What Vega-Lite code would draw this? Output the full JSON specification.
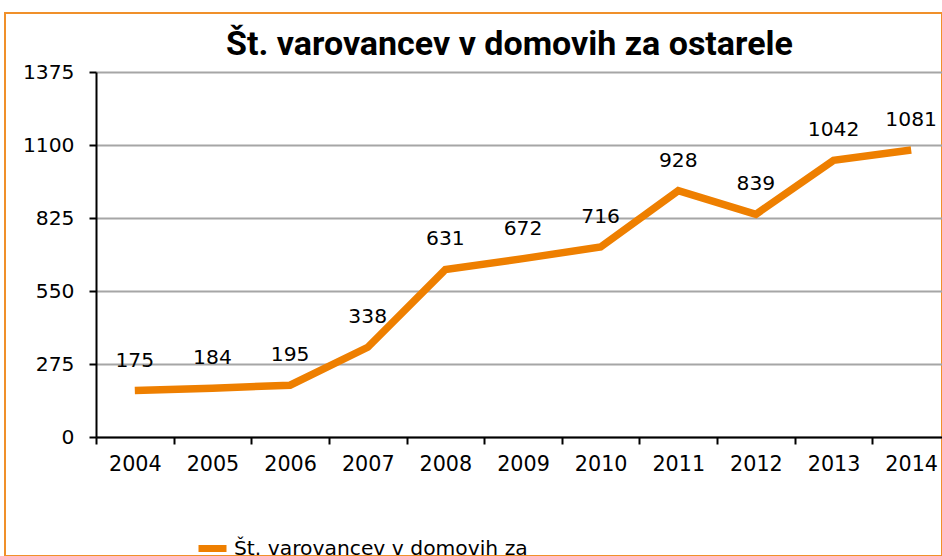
{
  "$schema": "https://vega.github.io/schema/vega-lite/v6.json",
  "width": 937,
  "height": 543,
  "autosize": {"type": "none"},
  "padding": {"left": 5, "top": 13, "right": 0, "bottom": 0},
  "background": "white",
  "config": {
    "view": {"stroke": "#F0902A", "strokeWidth": 2},
    "font": "DejaVu Sans"
  },
  "title": {
    "text": "Št. varovancev v domovih za ostarele",
    "font": "Roboto",
    "fontWeight": "bold",
    "fontSize": 34,
    "color": "#000000",
    "anchor": "middle",
    "frame": "group",
    "offset": 0,
    "baseline": "alphabetic",
    "dy": 76,
    "dx": 36
  },
  "data": {
    "values": [
      {"leto": "2004", "st": 175},
      {"leto": "2005", "st": 184},
      {"leto": "2006", "st": 195},
      {"leto": "2007", "st": 338},
      {"leto": "2008", "st": 631},
      {"leto": "2009", "st": 672},
      {"leto": "2010", "st": 716},
      {"leto": "2011", "st": 928},
      {"leto": "2012", "st": 839},
      {"leto": "2013", "st": 1042},
      {"leto": "2014", "st": 1081}
    ]
  },
  "encoding": {
    "x": {
      "field": "leto",
      "type": "ordinal",
      "scale": {"type": "band", "range": [91, 945], "paddingInner": 0, "paddingOuter": 0},
      "axis": {
        "orient": "bottom",
        "offset": -119,
        "title": null,
        "labelAngle": 0,
        "tickBand": "extent",
        "grid": false,
        "domainColor": "#000000",
        "domainWidth": 2,
        "tickColor": "#000000",
        "tickWidth": 2,
        "tickSize": 7,
        "labelFontSize": 20.7,
        "labelColor": "#000000",
        "labelPadding": 10
      }
    },
    "y": {
      "field": "st",
      "type": "quantitative",
      "scale": {"domain": [0, 1375], "range": [424, 59], "nice": false},
      "axis": {
        "orient": "left",
        "offset": -91,
        "title": null,
        "format": "d",
        "values": [0, 275, 550, 825, 1100, 1375],
        "grid": true,
        "gridColor": "#A6A6A6",
        "gridWidth": 2,
        "domainColor": "#000000",
        "domainWidth": 2,
        "tickColor": "#000000",
        "tickWidth": 2,
        "tickSize": 7,
        "labelFontSize": 20.3,
        "labelColor": "#000000",
        "labelPadding": 15
      }
    }
  },
  "layer": [
    {
      "mark": {"type": "line", "strokeWidth": 7.5, "strokeCap": "butt", "strokeJoin": "miter"},
      "encoding": {
        "color": {
          "datum": "Št. varovancev v domovih za ostarele",
          "scale": {"range": ["#EE7F00"]},
          "legend": {
            "orient": "none",
            "legendX": 190,
            "legendY": 518,
            "title": null,
            "symbolType": "stroke",
            "symbolStrokeWidth": 7,
            "symbolSize": 784,
            "labelFontSize": 20.3,
            "labelColor": "#000000",
            "labelLimit": 0,
            "labelOffset": 4,
            "labelExpr": "['Št. varovancev v domovih za', 'ostarele']"
          }
        }
      }
    },
    {
      "mark": {"type": "text", "dy": -24, "baseline": "alphabetic", "fontSize": 20.3, "color": "#000000"},
      "encoding": {"text": {"field": "st", "type": "quantitative"}}
    }
  ]
}
